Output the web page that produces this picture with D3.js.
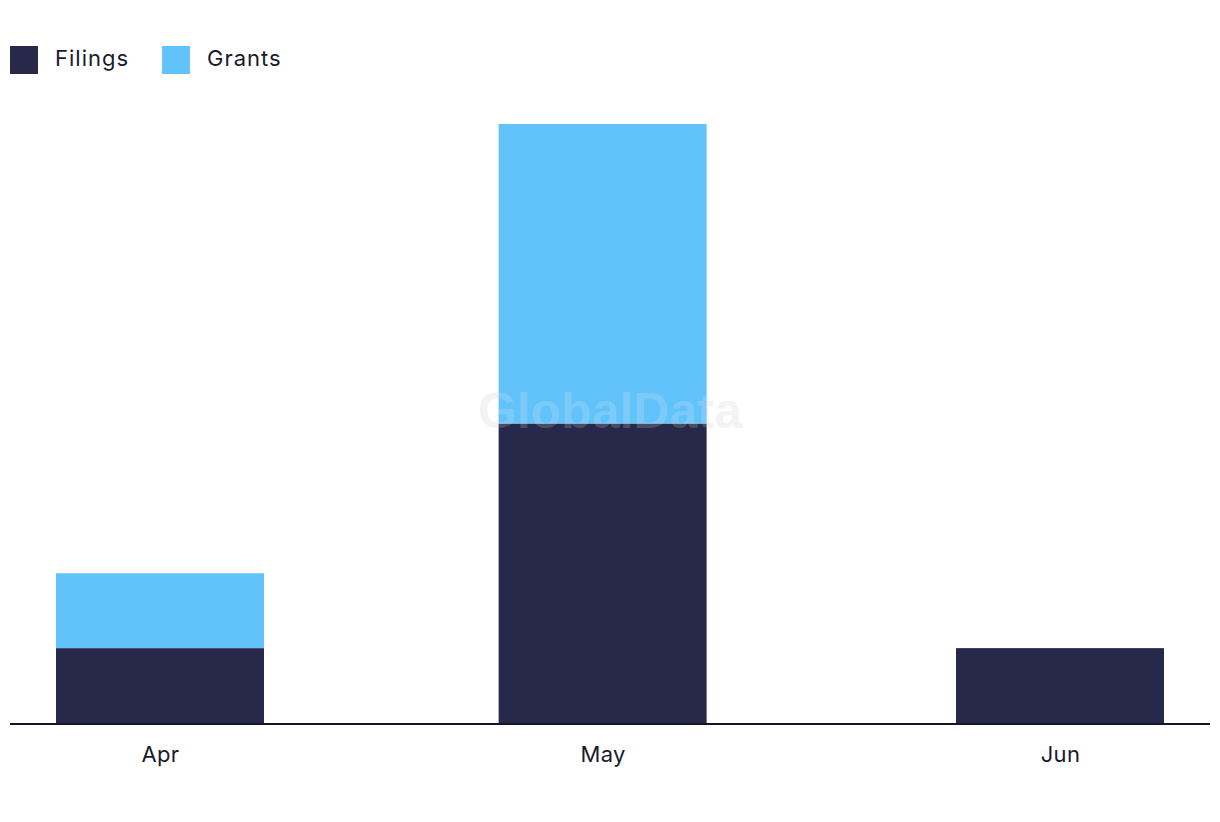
<!DOCTYPE html>
<html><head><meta charset="utf-8">
<script src="https://cdn.jsdelivr.net/npm/d3@7"></script>
<style>body{margin:0;background:#fff}svg{display:block}</style>
</head><body><svg id="c" width="1220" height="822"></svg>
<script>
const months = ["2024-04-01", "2024-05-01", "2024-06-01"];
const monthLabels = ["Apr", "May", "Jun"];
const filings = [1, 4, 1];
const grants = [1, 4, 0];
const seriesNames = ["Filings", "Grants"];
const colors = ["#28284b", "#62c2fa"];

const svg = d3.select("#c");
const parse = d3.utcParse("%Y-%m-%d");
const dates = months.map(parse);
const x = d3.scaleUtc().domain([dates[0], dates[2]]).range([160, 1060]);
const y = d3.scaleLinear().domain([0, 8]).range([723, 124]);
const barW = 208;

const data = dates.map((d, i) => ({date: d, Filings: filings[i], Grants: grants[i]}));
const stack = d3.stack().keys(seriesNames)(data);

svg.append("text").attr("x", 610).attr("y", 428).attr("text-anchor", "middle")
  .attr("font-family", "Liberation Sans, Arial, sans-serif").attr("font-weight", "bold")
  .attr("font-size", 50).attr("fill", "#e0e0e0").attr("fill-opacity", 0.35).text("GlobalData");

svg.append("g").selectAll("g").data(stack).join("g")
  .attr("fill", (d, i) => colors[i])
  .selectAll("rect").data(d => d).join("rect")
  .attr("x", d => x(d.data.date) - barW / 2)
  .attr("width", barW)
  .attr("y", d => y(d[1]))
  .attr("height", d => y(d[0]) - y(d[1]));

svg.append("text").attr("x", 610).attr("y", 428).attr("text-anchor", "middle")
  .attr("font-family", "Liberation Sans, Arial, sans-serif").attr("font-weight", "bold")
  .attr("font-size", 50).attr("fill", "#f0f0f0").attr("fill-opacity", 0.18).text("GlobalData");

const ax = svg.append("g").attr("transform", "translate(0,723)")
  .call(d3.axisBottom(x).tickValues(dates).tickFormat((d, i) => monthLabels[i]).tickSize(0).tickPadding(23));
ax.select(".domain").remove();
ax.selectAll("text").attr("font-family", "Inter, sans-serif").attr("font-size", 22).attr("fill", "#1a1a2e")
  .attr("letter-spacing", 0.3);
svg.append("line").attr("x1", 10).attr("x2", 1210).attr("y1", 724).attr("y2", 724)
  .attr("stroke", "#14142b").attr("stroke-width", 2);

const lx = [10, 162];
const lg = svg.append("g").selectAll("g").data(seriesNames).join("g")
  .attr("transform", (d, i) => `translate(${lx[i]},46)`);
lg.append("rect").attr("width", 28).attr("height", 28).attr("fill", (d, i) => colors[i]);
lg.append("text").attr("x", 45).attr("y", 20).attr("font-family", "Inter, sans-serif")
  .attr("font-size", 22).attr("letter-spacing", 1).attr("fill", "#1a1a2e").text(d => d);
</script></body></html>
